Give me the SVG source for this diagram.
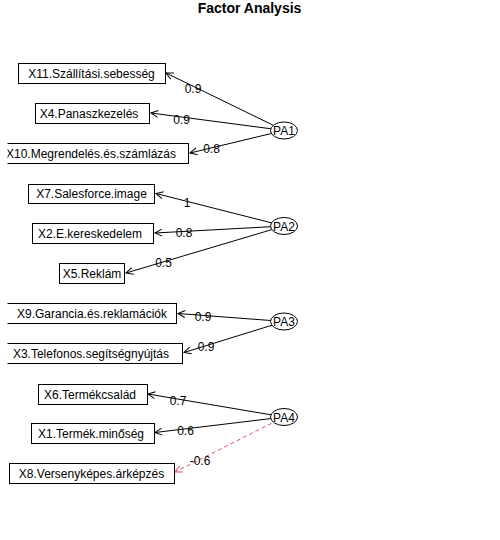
<svg xmlns="http://www.w3.org/2000/svg" width="500" height="540" viewBox="0 0 500 540">
<style>
text{font-family:"Liberation Sans",Arial,sans-serif;font-size:12px;fill:#000}
.title{font-size:14px;font-weight:bold}
.box{fill:none;stroke:#000;stroke-width:1}
.lat{fill:#fff;stroke:#000;stroke-width:1}
.c{stroke:#000;stroke-width:1;fill:none}
.neg{stroke:#DF536B;stroke-dasharray:4,3}
.lab{text-anchor:middle}
</style>
<defs>
<marker id="ah" markerUnits="userSpaceOnUse" viewBox="-8 -5 10 10" refX="0" refY="0" markerWidth="10" markerHeight="10" orient="auto">
<path d="M-7,-3.5 L0,0 L-7,3.5" fill="none" stroke="#000" stroke-width="1"/>
</marker>
<marker id="ahr" markerUnits="userSpaceOnUse" viewBox="-8 -5 10 10" refX="0" refY="0" markerWidth="10" markerHeight="10" orient="auto">
<path d="M-7,-3.5 L0,0 L-7,3.5" fill="none" stroke="#DF536B" stroke-width="1"/>
</marker>
<clipPath id="plot"><rect x="7.5" y="0" width="492.5" height="540"/></clipPath>
</defs>
<rect width="500" height="540" fill="#fff"/>
<text class="title lab" x="249.5" y="13">Factor Analysis</text>
<g id="connectors">
<line class="c" x1="284" y1="130.5" x2="166" y2="73" marker-end="url(#ah)"/>
<line class="c" x1="284" y1="130.5" x2="151" y2="113" marker-end="url(#ah)"/>
<line class="c" x1="284" y1="130.5" x2="190" y2="153" marker-end="url(#ah)"/>
<line class="c" x1="284" y1="226" x2="156" y2="193.5" marker-end="url(#ah)"/>
<line class="c" x1="284" y1="226" x2="155" y2="233" marker-end="url(#ah)"/>
<line class="c" x1="284" y1="226" x2="126" y2="273" marker-end="url(#ah)"/>
<line class="c" x1="284" y1="321.5" x2="178" y2="313.5" marker-end="url(#ah)"/>
<line class="c" x1="284" y1="321.5" x2="184" y2="352.5" marker-end="url(#ah)"/>
<line class="c" x1="284" y1="417" x2="148" y2="394" marker-end="url(#ah)"/>
<line class="c" x1="284" y1="417" x2="155" y2="432.5" marker-end="url(#ah)"/>
<line class="c neg" x1="284" y1="417" x2="175" y2="472" marker-end="url(#ahr)"/>
<text class="lab" x="193" y="93">0.9</text>
<text class="lab" x="181.5" y="124">0.9</text>
<text class="lab" x="211.5" y="153">0.8</text>
<text class="lab" x="187" y="207">1</text>
<text class="lab" x="184" y="237">0.8</text>
<text class="lab" x="163.5" y="267">0.5</text>
<text class="lab" x="203" y="321">0.9</text>
<text class="lab" x="206" y="351">0.9</text>
<text class="lab" x="178" y="405">0.7</text>
<text class="lab" x="185.5" y="435">0.6</text>
<text class="lab" x="200" y="465">-0.6</text>
</g>
<g id="X11"><rect class="box" x="18.5" y="63.5" width="147" height="20"/><text class="lab" x="91.5" y="77.5">X11.Szállítási.sebesség</text></g>
<g id="X4"><rect class="box" x="35.5" y="103.5" width="114" height="20"/><text class="lab" x="89" y="117.5">X4.Panaszkezelés</text></g>
<g id="X10" clip-path="url(#plot)"><rect class="box" x="-7.5" y="143.5" width="196" height="20"/><text class="lab" x="91" y="157.5">X10.Megrendelés.és.számlázás</text></g>
<g id="X7"><rect class="box" x="28.5" y="184.5" width="126" height="19"/><text class="lab" x="91.5" y="198">X7.Salesforce.image</text></g>
<g id="X2"><rect class="box" x="32.5" y="223.5" width="121" height="20"/><text class="lab" x="90" y="237.5">X2.E.kereskedelem</text></g>
<g id="X5"><rect class="box" x="59.5" y="263.5" width="65" height="20"/><text class="lab" x="92" y="277.5">X5.Reklám</text></g>
<g id="X9" clip-path="url(#plot)"><rect class="box" x="6.5" y="303.5" width="170" height="20"/><text class="lab" x="92" y="317.5">X9.Garancia.és.reklamációk</text></g>
<g id="X3" clip-path="url(#plot)"><rect class="box" x="-0.5" y="343.5" width="183" height="20"/><text class="lab" x="91" y="357.5">X3.Telefonos.segítségnyújtás</text></g>
<g id="X6"><rect class="box" x="38.5" y="384.5" width="109" height="20"/><text class="lab" x="90" y="398.5">X6.Termékcsalád</text></g>
<g id="X1"><rect class="box" x="31.5" y="423.5" width="123" height="20"/><text class="lab" x="91" y="437.5">X1.Termék.minőség</text></g>
<g id="X8"><rect class="box" x="9.5" y="463.5" width="165" height="20"/><text class="lab" x="91.5" y="477.5">X8.Versenyképes.árképzés</text></g>
<g id="PA1"><ellipse class="lat" cx="284" cy="130.5" rx="13.5" ry="8.5"/><text class="lab" x="284" y="135">PA1</text></g>
<g id="PA2"><ellipse class="lat" cx="284" cy="226" rx="13.5" ry="8.5"/><text class="lab" x="284" y="230.5">PA2</text></g>
<g id="PA3"><ellipse class="lat" cx="284" cy="321.5" rx="13.5" ry="8.5"/><text class="lab" x="284" y="326">PA3</text></g>
<g id="PA4"><ellipse class="lat" cx="284" cy="417" rx="13.5" ry="8.5"/><text class="lab" x="284" y="421.5">PA4</text></g>
</svg>
